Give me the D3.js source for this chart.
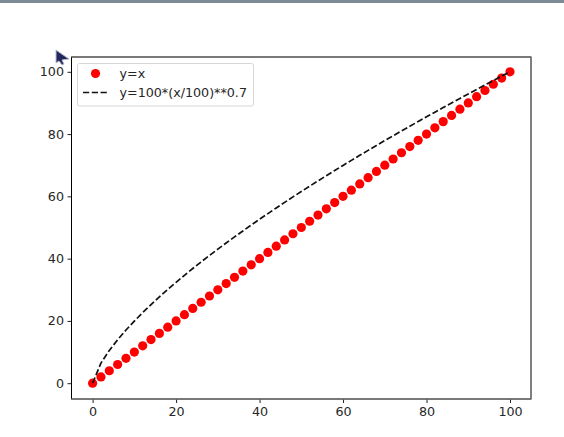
<!DOCTYPE html>
<html><head><meta charset="utf-8">
<script src="https://cdnjs.cloudflare.com/ajax/libs/d3/7.8.5/d3.min.js"></script>
<style>html,body{margin:0;padding:0;background:#fff}svg{display:block}text{font-family:"DejaVu Sans",sans-serif;font-size:12.7px;fill:#262626}</style>
</head><body><svg id="c" width="564" height="437"></svg>
<script>
const xValues=[0,2,4,6,8,10,12,14,16,18,20,22,24,26,28,30,32,34,36,38,40,42,44,46,48,50,52,54,56,58,60,62,64,66,68,70,72,74,76,78,80,82,84,86,88,90,92,94,96,98,100];
const seriesLinear=[0,2,4,6,8,10,12,14,16,18,20,22,24,26,28,30,32,34,36,38,40,42,44,46,48,50,52,54,56,58,60,62,64,66,68,70,72,74,76,78,80,82,84,86,88,90,92,94,96,98,100];
const seriesPower=[0,6.47,10.51,13.96,17.07,19.95,22.67,25.25,27.72,30.11,32.41,34.65,36.83,38.95,41.03,43.05,45.04,46.98,48.89,50.78,52.65,54.47,56.28,58.06,59.83,61.56,63.27,64.97,66.64,68.30,69.94,71.56,73.17,74.77,76.35,77.91,79.46,81.0,82.52,84.04,85.54,87.03,88.51,89.97,91.44,92.89,94.33,95.76,97.18,98.6,100];
const xTicks=[0,20,40,60,80,100], yTicks=[0,20,40,60,80,100];
const legendLabels=["y=x","y=100*(x/100)**0.7"];

const L=71.5,R=531,T=57,B=399;
const svg=d3.select("#c");
const x=d3.scaleLinear().domain([0,100]).range([92.6,510]);
const y=d3.scaleLinear().domain([0,100]).range([383.2,71.8]);

svg.append("rect").attr("x",0).attr("y",0).attr("width",564).attr("height",3).attr("fill","#7d8b96");

svg.append("g").selectAll("circle").data(xValues).join("circle")
  .attr("cx",d=>x(d)).attr("cy",(d,i)=>y(seriesLinear[i])).attr("r",4.6).attr("fill","#ff0000");
svg.append("path").datum(xValues)
  .attr("d",d3.line().x(d=>x(d)).y((d,i)=>y(seriesPower[i])))
  .attr("fill","none").attr("stroke","#111").attr("stroke-width",1.7).attr("stroke-dasharray","6.2 2.6");

const ax=svg.append("g").attr("transform",`translate(0,${B})`).call(d3.axisBottom(x).tickValues(xTicks).tickSize(4).tickPadding(3.5));
const ay=svg.append("g").attr("transform",`translate(${L},0)`).call(d3.axisLeft(y).tickValues(yTicks).tickSize(4).tickPadding(3.5));
[ax,ay].forEach(g=>{g.select(".domain").remove();g.selectAll("line").attr("stroke","#222").attr("stroke-width",1);g.selectAll("text").attr("font-family",null).attr("font-size",null);});

svg.append("rect").attr("x",L).attr("y",T).attr("width",R-L).attr("height",B-T).attr("fill","none").attr("stroke","#000").attr("stroke-width",1);
svg.append("line").attr("x1",L).attr("x2",R).attr("y1",T).attr("y2",T).attr("stroke","#777").attr("stroke-width",1.4);
svg.append("line").attr("x1",L).attr("x2",R).attr("y1",B).attr("y2",B).attr("stroke","#777").attr("stroke-width",1.4);

const lg=svg.append("g");
lg.append("rect").attr("x",77.5).attr("y",63.5).attr("width",176).attr("height",42.5).attr("rx",2).attr("fill","#fff").attr("fill-opacity",.9).attr("stroke","#d6d6d6");
lg.append("circle").attr("cx",95.5).attr("cy",73.5).attr("r",4.6).attr("fill","#ff0000");
lg.append("line").attr("x1",83).attr("x2",108).attr("y1",92.5).attr("y2",92.5).attr("stroke","#111").attr("stroke-width",1.7).attr("stroke-dasharray","6.2 2.6");
lg.selectAll("text").data(legendLabels).join("text").attr("x",119.5).attr("y",(d,i)=>78+i*19).text(d=>d);

svg.append("path").attr("d",d3.line()([[56,50],[56,63],[59,61],[62,65],[64,64],[62,60],[69,59]])+"Z").attr("fill","#23285e").attr("stroke","#b9bccb").attr("stroke-width",1);
</script></body></html>
